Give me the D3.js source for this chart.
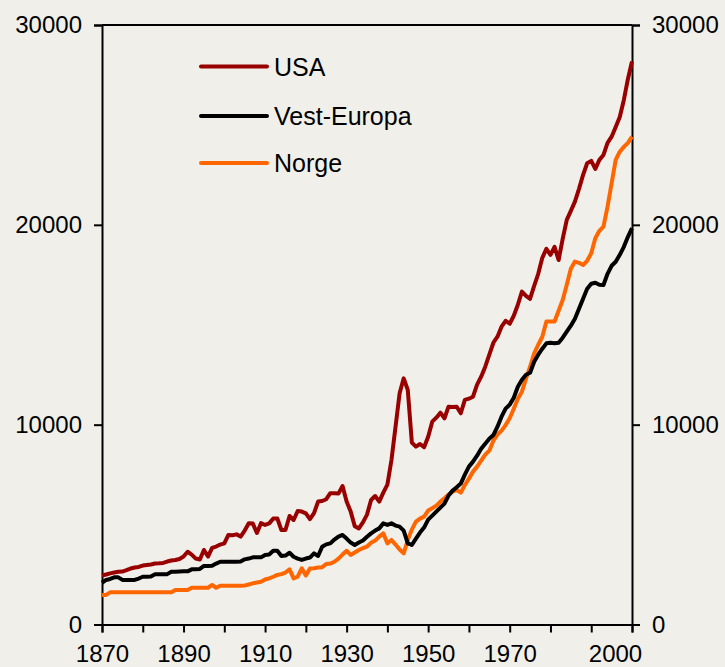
<!DOCTYPE html>
<html>
<head>
<meta charset="utf-8">
<script src="https://cdn.jsdelivr.net/npm/d3@7"></script>
<style>
  body { margin: 0; background: #f0efe9; }
  svg text { font-family: "Liberation Sans", Arial, sans-serif; fill: #000; }
</style>
</head>
<body>
<svg id="chart" width="725" height="667"></svg>
<script>
// BNP per innbygger, 1870-2000
var firstYear = 1870;

var usa = [
  2450, 2500, 2560, 2600, 2640, 2650, 2720, 2800, 2850, 2880,
  2950, 2980, 3000, 3050, 3060, 3080, 3150, 3200, 3230, 3280,
  3400, 3640, 3500, 3300, 3250, 3730, 3400, 3830, 3900, 4000,
  4060, 4480, 4470, 4510, 4400, 4700, 5070, 5050, 4580, 5070,
  4980, 5060, 5300, 5310, 4730, 4730, 5430, 5230, 5680, 5650,
  5560, 5270, 5570, 6150, 6180, 6270, 6570, 6570, 6550, 6930,
  6150, 5650, 4920, 4810, 5110, 5500, 6230, 6430, 6150, 6600,
  7000, 8230, 9900, 11570, 12320, 11740, 9100, 8900, 9030, 8870,
  9400, 10150, 10350, 10600, 10320, 10900, 10880, 10900, 10570, 11240,
  11300, 11400, 12000, 12400, 12900, 13500, 14100, 14400, 14900, 15200,
  15050, 15450, 16000, 16660, 16450, 16300, 16950, 17550, 18350, 18800,
  18500, 18900, 18240, 19300, 20250, 20700, 21160, 21800, 22500, 23080,
  23200, 22800, 23250, 23500, 24100, 24410, 24900, 25400, 26250, 27300,
  28170
];

var vestEuropa = [
  2090, 2230, 2280, 2360, 2360, 2230, 2230, 2230, 2230, 2300,
  2390, 2390, 2400, 2510, 2510, 2510, 2520, 2640, 2640, 2650,
  2660, 2660, 2760, 2760, 2780, 2930, 2930, 2940, 3050, 3140,
  3140, 3140, 3140, 3140, 3150, 3260, 3300, 3360, 3360, 3360,
  3480, 3500, 3690, 3690, 3430, 3450, 3590, 3390, 3300, 3230,
  3300, 3350, 3560, 3430, 3890, 4010, 4060, 4250, 4400, 4480,
  4300, 4100, 3980, 4100, 4200, 4390, 4560, 4700, 4810, 5060,
  4980, 5060, 4950, 4900, 4700, 4060, 3980, 4300, 4600, 4850,
  5250, 5450, 5650, 5850, 6050, 6450, 6700, 6870, 7050, 7500,
  7900, 8150, 8450, 8800, 9050, 9300, 9480, 9900, 10400, 10800,
  11000, 11350, 11900, 12250, 12500, 12600, 13150, 13500, 13800, 14070,
  14100, 14070, 14100, 14350, 14650, 14950, 15300, 15800, 16300, 16800,
  17050, 17100, 17000, 16990, 17550, 17950, 18150, 18500, 18900, 19400,
  19830
];

var norge = [
  1480, 1480, 1610, 1610, 1610, 1610, 1610, 1610, 1610, 1610,
  1610, 1610, 1610, 1610, 1610, 1610, 1610, 1610, 1730, 1730,
  1730, 1730, 1840, 1840, 1840, 1840, 1840, 1980, 1840, 1940,
  1940, 1940, 1940, 1940, 1940, 1950, 2000, 2060, 2100, 2140,
  2250, 2310, 2390, 2480, 2520, 2600, 2760, 2310, 2390, 2810,
  2450, 2800, 2820, 2850, 2870, 3030, 3050, 3140, 3300, 3500,
  3690, 3480, 3600, 3730, 3820, 3900, 4090, 4200, 4400, 4560,
  4060, 4230, 4000, 3750, 3560, 4230, 4750, 5150, 5300, 5400,
  5700, 5820, 5950, 6150, 6320, 6500, 6650, 6730, 6600, 6980,
  7300, 7650, 7900, 8200, 8500, 8700, 9200, 9500, 9700, 9980,
  10320, 10800, 11300, 11650, 12300, 12900, 13570, 14000, 14400, 15160,
  15160, 15160, 15700, 16240, 17000, 17800, 18160, 18100, 17990, 18200,
  18580, 19330, 19700, 19910, 20910, 22080, 23250, 23660, 23900, 24100,
  24410
];

var seriesNames = ["USA", "Vest-Europa", "Norge"];
var seriesColors = ["#990000", "#000000", "#ff6600"];
var yTicks = [0, 10000, 20000, 30000];
var xTicks = d3.range(1870, 2001, 10);
var xLabels = [1870, 1890, 1910, 1930, 1950, 1970, 2000];

var svg = d3.select("#chart");
var margin = {top: 25, right: 93, bottom: 42.5, left: 102};
var width = 725 - margin.left - margin.right;
var height = 667 - margin.top - margin.bottom;

svg.append("rect").attr("width", 725).attr("height", 667).attr("fill", "#f0efe9");

var g = svg.append("g").attr("transform", "translate(" + margin.left + "," + margin.top + ")");

var x = d3.scaleLinear().domain([1870, 2000]).range([0, width]);
var y = d3.scaleLinear().domain([0, 30000]).range([height, 0]);

// axes
var yLeft = g.append("g")
  .call(d3.axisLeft(y).tickValues(yTicks).tickSize(8).tickPadding(12).tickFormat(d3.format("d")));
var yRight = g.append("g").attr("transform", "translate(" + width + ",0)")
  .call(d3.axisRight(y).tickValues(yTicks).tickSize(8).tickPadding(12).tickFormat(d3.format("d")));
var xAxis = g.append("g").attr("transform", "translate(0," + height + ")")
  .call(d3.axisBottom(x).tickValues(xTicks).tickSize(8).tickPadding(12.5)
    .tickFormat(function(d) { return xLabels.indexOf(d) >= 0 ? d : ""; }));

xAxis.selectAll(".tick text").filter(function(d) { return d == 2000; }).attr("dx", -17);

[yLeft, yRight, xAxis].forEach(function(a) {
  a.selectAll("path, line").attr("stroke", "#000").attr("stroke-width", 2);
  a.selectAll("text").attr("font-size", 24).attr("font-family", "Liberation Sans, Arial, sans-serif");
});

// top border
g.append("line").attr("x1", 0).attr("x2", width).attr("y1", 0).attr("y2", 0)
  .attr("stroke", "#000").attr("stroke-width", 2);

// lines
var line = d3.line()
  .x(function(d, i) { return x(firstYear + i); })
  .y(function(d) { return y(d); });

var allSeries = [usa, vestEuropa, norge];
// draw orange, then black, then red on top
[2, 1, 0].forEach(function(k) {
  g.append("path").datum(allSeries[k])
    .attr("d", line)
    .attr("fill", "none")
    .attr("stroke", seriesColors[k])
    .attr("stroke-width", 4)
    .attr("stroke-linejoin", "round");
});

// legend
var legend = svg.append("g");
var legendY = [66.5, 116, 163];
seriesNames.forEach(function(name, i) {
  legend.append("line")
    .attr("x1", 201).attr("x2", 267)
    .attr("y1", legendY[i]).attr("y2", legendY[i])
    .attr("stroke", seriesColors[i]).attr("stroke-width", 4).attr("stroke-linecap", "round");
  legend.append("text")
    .attr("x", 274).attr("y", legendY[i]).attr("dy", "0.36em")
    .attr("font-size", 25)
    .text(name);
});
</script>
</body>
</html>
